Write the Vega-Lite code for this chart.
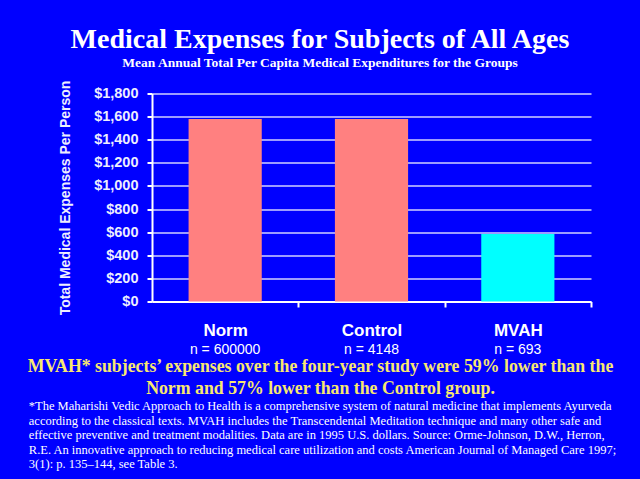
{
  "$schema": "https://vega.github.io/schema/vega-lite/v6.json",
  "width": 439,
  "height": 208,
  "autosize": {"type": "none"},
  "padding": {"left": 152, "top": 93.5, "right": 49, "bottom": 177.5},
  "background": "#0000FF",
  "title": {
    "text": "Medical Expenses for Subjects of All Ages",
    "subtitle": "Mean Annual Total Per Capita Medical Expenditures for the Groups",
    "font": "Liberation Serif",
    "fontSize": 28,
    "fontWeight": "bold",
    "color": "white",
    "subtitleFont": "Liberation Serif",
    "subtitleFontSize": 13.5,
    "subtitleFontWeight": "bold",
    "subtitleColor": "white",
    "subtitlePadding": 2,
    "anchor": "middle",
    "frame": "group",
    "dx": -51.5,
    "offset": 11
  },
  "data": {
    "values": [
      {"group": "Norm", "n": "n = 600000", "expense": 1580},
      {"group": "Control", "n": "n = 4148", "expense": 1580},
      {"group": "MVAH", "n": "n = 693", "expense": 584}
    ]
  },
  "config": {"view": {"stroke": null}},
  "resolve": {"axis": {"x": "independent"}},
  "layer": [
    {
      "mark": {"type": "bar"},
      "encoding": {
        "x": {
          "field": "group",
          "type": "nominal",
          "sort": null,
          "scale": {"paddingInner": 0.5, "paddingOuter": 0.25},
          "axis": {
            "orient": "bottom",
            "labelAngle": 0,
            "labelFont": "Liberation Sans",
            "labelFontSize": 17,
            "labelFontWeight": "bold",
            "labelColor": "white",
            "labelBaseline": "alphabetic",
            "labelPadding": 28.5,
            "domainColor": "white",
            "domainWidth": 2,
            "tickColor": "white",
            "tickWidth": 2,
            "tickSize": 5.5,
            "tickOffset": 73.17,
            "labelOffset": -73.17,
            "title": ["MVAH* subjects’ expenses over the four-year study were 59% lower than the", "Norm and 57% lower than the Control group."],
            "titleFont": "Liberation Serif",
            "titleFontSize": 17.8,
            "titleFontWeight": "bold",
            "titleColor": "#F8E870",
            "titleX": 168,
            "titleY": 70,
            "titleAlign": "center",
            "titleBaseline": "alphabetic",
            "titleLineHeight": 21.6
          }
        },
        "y": {
          "field": "expense",
          "type": "quantitative",
          "scale": {"domain": [0, 1800]},
          "axis": {
            "values": [0, 200, 400, 600, 800, 1000, 1200, 1400, 1600, 1800],
            "labelOverlap": false,
            "format": "$,.0f",
            "labelFont": "Liberation Sans",
            "labelFontSize": 14.5,
            "labelFontWeight": "bold",
            "labelColor": "#EEEEFF",
            "labelPadding": 9,
            "domainColor": "white",
            "domainWidth": 2,
            "tickColor": "white",
            "tickWidth": 2,
            "tickSize": 5,
            "grid": true,
            "gridColor": "#D0D0FF",
            "gridWidth": 1.5,
            "title": "Total Medical Expenses Per Person",
            "titleFont": "Liberation Sans",
            "titleFontSize": 14,
            "titleFontWeight": "bold",
            "titleColor": "#EEEEFF",
            "titlePadding": 21
          }
        },
        "color": {
          "field": "group",
          "type": "nominal",
          "scale": {"domain": ["Norm", "Control", "MVAH"], "range": ["#FF8080", "#FF8080", "#00FFFF"]},
          "legend": null
        }
      }
    },
    {
      "mark": {"type": "bar", "opacity": 0},
      "encoding": {
        "x": {
          "field": "group",
          "type": "nominal",
          "sort": null,
          "axis": {
            "orient": "bottom",
            "labelAngle": 0,
            "labelExpr": "datum.value == 'Norm' ? 'n = 600000' : datum.value == 'Control' ? 'n = 4148' : 'n = 693'",
            "labelFont": "Liberation Sans",
            "labelFontSize": 14,
            "labelColor": "white",
            "labelBaseline": "alphabetic",
            "labelPadding": 51.5,
            "domain": false,
            "ticks": false,
            "title": [
              "*The Maharishi Vedic Approach to Health is a comprehensive system of natural medicine that implements Ayurveda",
              "according to the classical texts. MVAH includes the Transcendental Meditation technique and many other safe and",
              "effective preventive and treatment modalities. Data are in 1995 U.S. dollars. Source: Orme-Johnson, D.W., Herron,",
              "R.E. An innovative approach to reducing medical care utilization and costs  American Journal of Managed Care 1997;",
              "3(1): p. 135–144, see Table 3."
            ],
            "titleFont": "Liberation Serif",
            "titleFontSize": 12.5,
            "titleFontWeight": "normal",
            "titleColor": "white",
            "titleX": -123.7,
            "titleY": 108,
            "titleAlign": "left",
            "titleBaseline": "alphabetic",
            "titleLineHeight": 14.5
          }
        }
      }
    }
  ]
}
